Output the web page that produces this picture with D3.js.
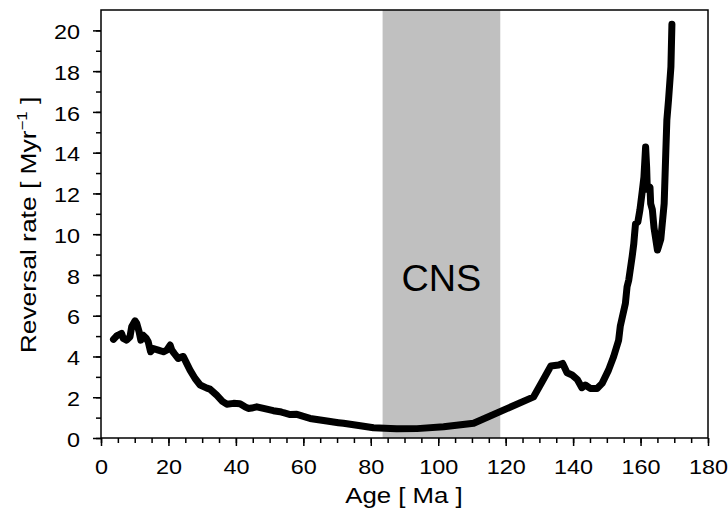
<!DOCTYPE html>
<head>
  <meta charset="utf-8">
  <title>Reversal rate</title>
  <script src="https://d3js.org/d3.v7.min.js"></script>
  <style>
    body { margin: 0; background: #fff; }
    svg text { font-family: "Liberation Sans", Arial, sans-serif; fill: #000; }
  </style>
</head>

<svg id="chart" width="728" height="514"></svg>

<script>
  // values (age in Ma, rate in reversals per Myr)
  const ages = [3.7, 4.6, 5.1, 6.1, 6.6, 7.6, 8.6, 9.1, 10.1, 10.6, 11.3, 11.8, 12.4, 13.4, 14.0, 14.7,
    15.5, 17.0, 18.5, 19.5, 20.5, 21.0, 21.7, 22.9, 23.9, 24.4, 25.4, 26.4, 27.9, 29.4, 31.4, 32.3,
    34.3, 36.0, 37.3, 39.3, 41.2, 42.7, 43.7, 44.7, 46.2, 48.2, 51.1, 53.1, 54.1, 56.1, 58.1, 61.0,
    62.0, 65.0, 67.0, 70.4, 71.9, 76.9, 80.8, 85.8, 87.7, 93.7, 101.6, 110.5, 128.3, 130.8, 133.4,
    135.7, 136.9, 138.2, 139.7, 141.2, 142.6, 143.6, 145.1, 147.1, 148.6, 150.5, 152.0, 153.5, 154.0,
    155.5, 156.0, 156.5, 157.5, 158.0, 158.2, 158.5, 159.2, 159.8, 160.5, 161.0, 161.5, 161.8, 162.0,
    162.8, 163.0, 163.5, 164.0, 165.0, 166.0, 167.0, 167.5, 167.8, 168.3, 169.0, 169.3];
  const rates = [4.84, 5.0, 5.05, 5.13, 4.89, 4.8, 4.97, 5.46, 5.75, 5.62, 5.21, 4.8, 5.05, 4.89, 4.72, 4.23,
    4.39, 4.31, 4.23, 4.31, 4.56, 4.31, 4.15, 3.9, 3.98, 4.0, 3.66, 3.33, 2.92, 2.6, 2.45, 2.4,
    2.1, 1.8, 1.66, 1.7, 1.68, 1.53, 1.45, 1.47, 1.53, 1.45, 1.34, 1.29, 1.24, 1.15, 1.16, 1.01,
    0.96, 0.88, 0.83, 0.75, 0.72, 0.6, 0.5, 0.47, 0.45, 0.46, 0.55, 0.72, 2.02, 2.76, 3.53,
    3.58, 3.66, 3.2, 3.09, 2.88, 2.47, 2.6, 2.43, 2.43, 2.68, 3.33, 3.99, 4.8, 5.5,
    6.6, 7.42, 7.75, 8.89, 9.54, 9.95, 10.5, 10.6, 11.18, 12.1, 12.8, 14.28, 13.3, 12.2,
    12.3, 11.5, 11.2, 10.3, 9.22, 9.75, 11.5, 14.1, 15.6, 16.6, 18.2, 20.3];

  const cns = [83.5, 118.4];
  const xTicks = [0, 20, 40, 60, 80, 100, 120, 140, 160, 180];
  const yTicks = [0, 2, 4, 6, 8, 10, 12, 14, 16, 18, 20];

  const margin = { top: 10, right: 20, bottom: 76, left: 101 };
  const sx = 1.2; // the lettering in the figure is wide

  const svg = d3.select("#chart"),
    width = +svg.attr("width") - margin.left - margin.right,
    height = +svg.attr("height") - margin.top - margin.bottom,
    g = svg.append("g").attr("transform", `translate(${margin.left}, ${margin.top})`);

  const x = d3.scaleLinear().domain([0, 180]).range([0, width]);
  const y = d3.scaleLinear().domain([0, 21]).range([height, 0]);

  const data = ages.map((a, i) => ({ age: a, rate: rates[i] }));

  // CNS shading
  g.append("rect")
    .attr("x", x(cns[0]))
    .attr("y", 0)
    .attr("width", x(cns[1]) - x(cns[0]))
    .attr("height", height)
    .style("fill", "#c0c0c0");

  g.append("text")
    .attr("transform", `translate(${x((cns[0] + cns[1]) / 2)},${y(7.2)}) scale(1.05,1)`)
    .attr("text-anchor", "middle")
    .style("font-size", "36px")
    .text("CNS");

  // minor ticks first, majors on top
  g.append("g")
    .attr("transform", `translate(0,${height})`)
    .call(d3.axisBottom(x).tickValues(d3.range(0, 181, 5)).tickSize(5).tickFormat(""))
    .call(a => a.select(".domain").remove());
  g.append("g")
    .call(d3.axisLeft(y).tickValues(d3.range(0, 21, 1)).tickSize(5).tickFormat(""))
    .call(a => a.select(".domain").remove());

  const xAxis = g.append("g")
    .attr("transform", `translate(0,${height})`)
    .call(d3.axisBottom(x).tickValues(xTicks).tickSize(8).tickPadding(14));
  const yAxis = g.append("g")
    .call(d3.axisLeft(y).tickValues(yTicks).tickSize(8).tickPadding(13));

  [xAxis, yAxis].forEach(a => {
    a.selectAll("text")
      .style("font-size", "19.5px")
      .style("font-family", "Liberation Sans, Arial, sans-serif")
      .attr("transform", `scale(${sx},1)`);
    a.select(".domain").remove();
  });
  yAxis.selectAll(".tick text").attr("x", -21 / sx).attr("dy", "0.42em");
  svg.selectAll(".tick line").attr("stroke", "#000").attr("stroke-width", 1.5);

  // frame
  g.append("rect")
    .attr("width", width)
    .attr("height", height)
    .style("fill", "none")
    .style("stroke", "#000")
    .style("stroke-width", 1.5);

  g.append("path")
    .datum(data)
    .attr("d", d3.line().x(d => x(d.age)).y(d => y(d.rate)))
    .style("fill", "none")
    .style("stroke", "#000")
    .style("stroke-width", 7)
    .style("stroke-linejoin", "round")
    .style("stroke-linecap", "round");

  // axis titles
  svg.append("text")
    .attr("transform", `translate(404,503) scale(${sx},1)`)
    .attr("text-anchor", "middle")
    .style("font-size", "21.5px")
    .text("Age [ Ma ]");

  const yt = svg.append("text")
    .attr("transform", `translate(36,225) rotate(-90) scale(${sx},1)`)
    .attr("text-anchor", "middle")
    .style("font-size", "22px");
  yt.append("tspan").text("Reversal rate [ Myr");
  yt.append("tspan").attr("dy", -9).style("font-size", "14px").text("\u22121");
  yt.append("tspan").attr("dy", 9).text(" ]");
</script>
